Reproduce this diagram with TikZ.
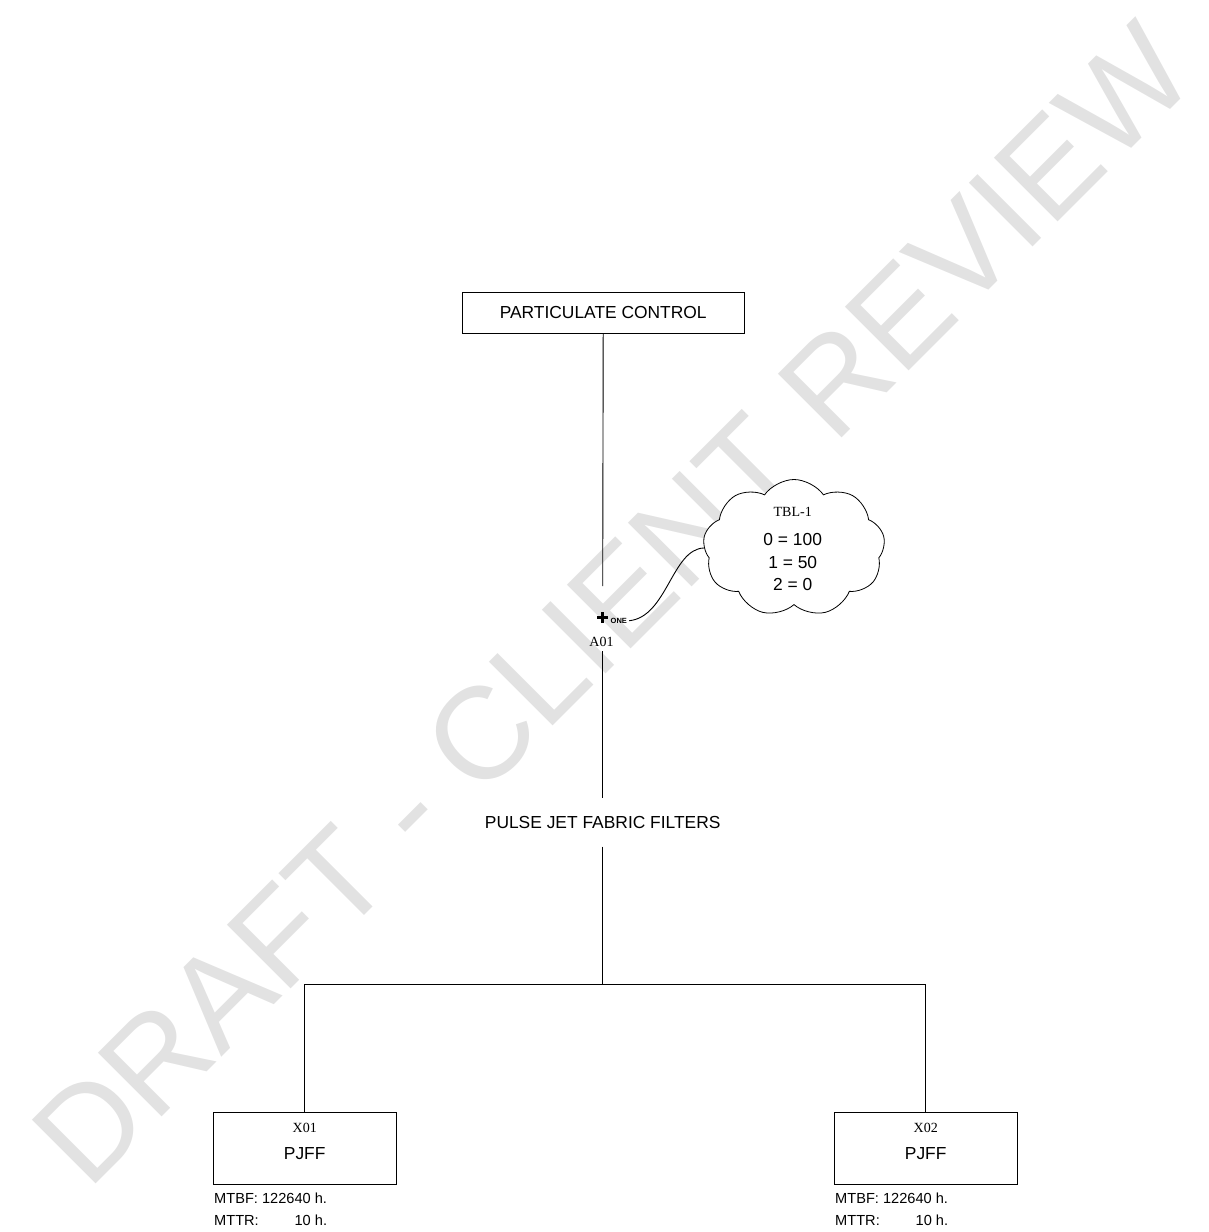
\documentclass[tikz,border=0pt]{standalone}
\usepackage{fontspec}
\setmainfont{Liberation Sans}
\newfontfamily\seriffont{Liberation Serif}
\usetikzlibrary{shapes.symbols}
\begin{document}
\begin{tikzpicture}[x=1pt,y=-1pt,
  box/.style={draw, fill=white, line width=0.9pt, inner sep=0pt},
  lbl/.style={font=\fontsize{17.4}{20}\selectfont, inner sep=0pt},
  ser/.style={font=\seriffont\fontsize{14}{16}\selectfont, inner sep=0pt},
  small/.style={font=\fontsize{14.6}{16}\selectfont, inner sep=0pt},
  conn/.style={line width=0.9pt}]
\useasboundingbox (0,0) rectangle (1208,1232);
% watermark
\node[rotate=45, text=gray!23, font=\fontsize{131}{131}\selectfont, inner sep=0pt] (wm) at (612,604) {DRAFT - CLIENT REVIEW};

% top box
\node[box, minimum width=282pt, minimum height=40.6pt, lbl] (pc) at (603.2,313) {PARTICULATE CONTROL};

% A01 marker
\coordinate (a01) at (602.7,617.7);
\coordinate (gap1) at (602.7,586);
\coordinate (gap2) at (602.7,651);
\draw[line width=2.8pt] (a01) ++(-5.5,0) -- ++(11,0);
\draw[line width=2.8pt] (a01) ++(0,-5.5) -- ++(0,11);
\node[anchor=base west, font=\bfseries\fontsize{7.5}{8}\selectfont, inner sep=0pt] (one) at (610.5,623.3) {ONE};
\node[ser] (a01lbl) at (601.5,641.7) {A01};

% cloud
\node[cloud, draw, fill=white, cloud puffs=9, cloud puff arc=110, cloud ignores aspect,
      minimum width=182pt, minimum height=137pt, inner sep=0pt, line width=0.8pt] (cl) at (794,548) {};
\node[ser] (tbl) at (792.7,511.7) {TBL-1};
\node[lbl] (t0) at (792.7,539.3) {0 = 100};
\node[lbl] (t1) at (792.7,562.7) {1 = 50};
\node[lbl] (t2) at (792.7,584.3) {2 = 0};
\draw[conn] ([xshift=2pt]one.east) .. controls (667,617) and (672,549) .. (cl.west);

% middle label
\node[fill=white, minimum width=290pt, minimum height=48pt, inner sep=0pt, lbl] (pj) at (602.7,822.5) {PULSE JET FABRIC FILTERS};

\coordinate (jn) at (602.7,984);
\draw[conn] (pc.south) -- (gap1);
\draw[conn] (gap2) -- (pj.north);
\draw[conn] (pj.south) -- (jn);

% bottom boxes
\node[box, minimum width=182.7pt, minimum height=72pt] (b1) at (304.7,1148.3) {};
\node[box, minimum width=182.7pt, minimum height=72pt] (b2) at (925.7,1148.3) {};
\draw[conn] (b1.north) |- (jn) -| (b2.north);

\node[ser] (x1) at (304.7,1128.3) {X01};
\node[lbl] (p1) at (304.7,1153.3) {PJFF};
\node[ser] (x2) at (925.7,1127.5) {X02};
\node[lbl] (p2) at (925.7,1153.3) {PJFF};

\node[small, anchor=base west] (m1) at (214,1203.5) {MTBF: 122640 h.};
\node[small, anchor=base west] (r1) at (214,1225.2) {MTTR:};
\node[small, anchor=base east] (h1) at (327.3,1225.2) {10 h.};
\node[small, anchor=base west] (m2) at (835,1203.5) {MTBF: 122640 h.};
\node[small, anchor=base west] (r2) at (835,1225.2) {MTTR:};
\node[small, anchor=base east] (h2) at (948.3,1225.2) {10 h.};
\end{tikzpicture}
\end{document}
